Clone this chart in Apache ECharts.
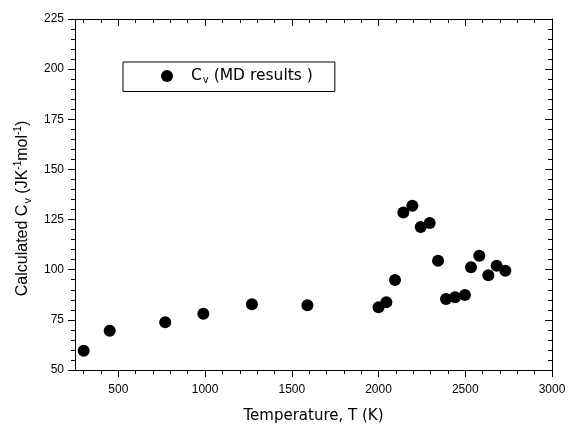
<!DOCTYPE html>
<html>
<head>
<meta charset="utf-8">
<script src="https://cdn.jsdelivr.net/npm/echarts@6/dist/echarts.min.js"></script>
<style>
html,body{margin:0;padding:0;background:#fff;}
#chart{width:568px;height:424px;}
</style>
</head>
<body>
<div id="chart"></div>
<script>
// Data
var temperatures = [300, 450, 770, 990, 1270, 1590, 2000, 2045, 2095, 2143, 2195, 2243, 2295, 2343, 2389, 2441, 2498, 2533, 2581, 2633, 2681, 2731];
var cvValues     = [59.6, 69.6, 73.8, 78.0, 82.8, 82.3, 81.3, 83.8, 94.9, 128.5, 131.9, 121.3, 123.3, 104.5, 85.4, 86.3, 87.4, 101.2, 107.0, 97.2, 102.0, 99.5];
var xLabelValues = [500, 1000, 1500, 2000, 2500, 3000];
var xMinorTickValues = [300, 400, 500, 600, 700, 800, 900, 1000, 1100, 1200, 1300, 1400, 1500, 1600, 1700, 1800, 1900, 2000, 2100, 2200, 2300, 2400, 2500, 2600, 2700, 2800, 2900, 3000];
var seriesName = 'Cv (MD results )';

var FONT = '"Liberation Sans", Arial, Helvetica, sans-serif';
var WIDE = '"DejaVu Sans", "Liberation Sans", sans-serif';
var points = temperatures.map(function (t, i) { return [t, cvValues[i]]; });

var axisLine = { show: true, onZero: false, lineStyle: { color: '#000', width: 1 } };

var chart = echarts.init(document.getElementById('chart'), null, { renderer: 'canvas' });
chart.setOption({
  backgroundColor: '#fff',
  animation: false,
  grid: { left: 75, right: 16, top: 19, bottom: 54, containLabel: false, outerBoundsMode: 'none' },
  legend: {
    left: 123, top: 62,
    padding: [6, 22, 6, 38],
    borderColor: '#000', borderWidth: 1,
    icon: 'circle', itemWidth: 12, itemHeight: 12,
    data: [seriesName],
    formatter: function () { return '{s|}{a|C}{b|v}{a| (MD results )}'; },
    textStyle: {
      fontFamily: WIDE, color: '#000', fontSize: 15.5,
      rich: {
        s: { width: 13 },
        a: { fontFamily: WIDE, fontSize: 15.5, color: '#000' },
        b: { fontFamily: WIDE, fontSize: 10, color: '#000', padding: [9, 0, 0, 1] }
      }
    }
  },
  xAxis: [
    {
      type: 'value', position: 'bottom', min: 250, max: 3000,
      axisLine: axisLine,
      axisTick: { show: true, customValues: xLabelValues, length: 7, lineStyle: { color: '#000' } },
      axisLabel: { customValues: xLabelValues, fontFamily: FONT, fontSize: 12, color: '#000', margin: 14,
        formatter: function (v) { return String(v); } },
      splitLine: { show: false },
      name: 'Temperature, T (K)', nameLocation: 'middle', nameGap: 39,
      nameTextStyle: { fontFamily: WIDE, fontSize: 15, color: '#000' }
    },
    {
      type: 'value', position: 'bottom', min: 250, max: 3000,
      axisLine: axisLine,
      axisTick: { show: true, customValues: xMinorTickValues, length: 4, lineStyle: { color: '#000' } },
      axisLabel: { show: false },
      splitLine: { show: false }
    },
    {
      type: 'value', position: 'top', min: 250, max: 3000,
      axisLine: axisLine,
      axisTick: { show: true, inside: true, customValues: xLabelValues, length: 7, lineStyle: { color: '#000' } },
      axisLabel: { show: false },
      splitLine: { show: false }
    },
    {
      type: 'value', position: 'top', min: 250, max: 3000,
      axisLine: axisLine,
      axisTick: { show: true, inside: true, customValues: xMinorTickValues, length: 4, lineStyle: { color: '#000' } },
      axisLabel: { show: false },
      splitLine: { show: false }
    }
  ],
  yAxis: [
    {
      type: 'value', position: 'left', min: 50, max: 225, interval: 25,
      axisLine: axisLine,
      axisTick: { show: true, length: 7, lineStyle: { color: '#000' } },
      minorTick: { show: true, splitNumber: 5, length: 4, lineStyle: { color: '#000' } },
      axisLabel: { fontFamily: FONT, fontSize: 12, color: '#000', margin: 11 },
      splitLine: { show: false },
      name: '{a|Calculated C}{b|v}{a| (JK}{c|-1}{a|mol}{c|-1}{a|)}',
      nameLocation: 'middle', nameGap: 38, nameRotate: 90,
      nameTextStyle: {
        fontFamily: FONT, fontSize: 16, color: '#000',
        padding: [0, 28, 0, 0],
        rich: {
          a: { fontFamily: FONT, fontSize: 16, color: '#000' },
          b: { fontFamily: FONT, fontSize: 11, color: '#000', padding: [9, 0, 0, 1] },
          c: { fontFamily: FONT, fontSize: 10, color: '#000', padding: [0, 0, 9, 0] }
        }
      }
    },
    {
      type: 'value', position: 'right', min: 50, max: 225, interval: 25,
      axisLine: axisLine,
      axisTick: { show: true, inside: true, length: 7, lineStyle: { color: '#000' } },
      minorTick: { show: true, splitNumber: 5, length: 4, lineStyle: { color: '#000' } },
      axisLabel: { show: false },
      splitLine: { show: false }
    }
  ],
  series: [
    {
      name: seriesName,
      type: 'scatter',
      xAxisIndex: 0, yAxisIndex: 0,
      symbol: 'circle', symbolSize: 12,
      itemStyle: { color: '#000', opacity: 1 },
      data: points
    }
  ]
});
</script>
</body>
</html>
